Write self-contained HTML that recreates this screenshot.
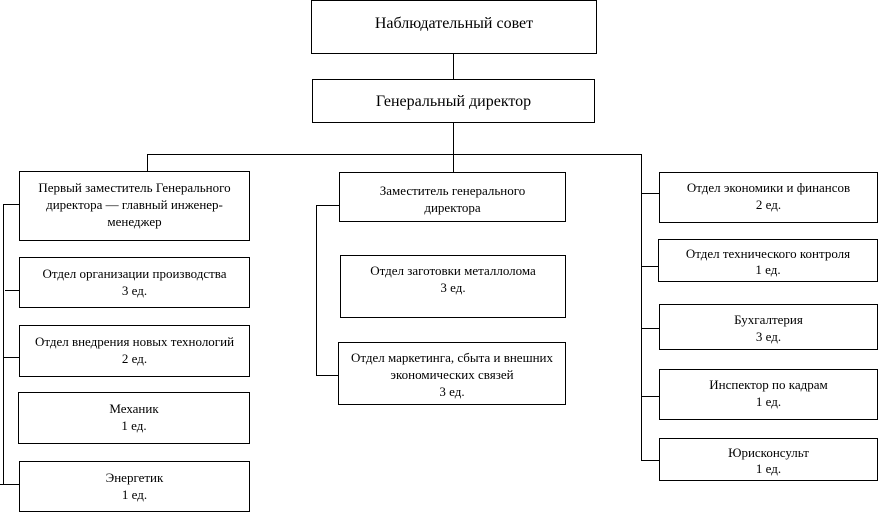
<!DOCTYPE html>
<html><head><meta charset="utf-8"><style>
body{margin:0;width:885px;height:513px;background:#fff;position:relative;overflow:hidden;font-family:"Liberation Serif",serif;color:#000}
.b{position:absolute;box-sizing:border-box;border:1px solid #000;text-align:center;font-size:13px;line-height:17px;padding-top:7px;white-space:nowrap}
.h{position:absolute;height:1px;background:#000}
.v{position:absolute;width:1px;background:#000}
</style></head><body>
<div class="b" style="left:311px;top:0;width:286px;height:54px;font-size:16px;padding-top:14px">Наблюдательный совет</div>
<div class="b" style="left:312px;top:79px;width:283px;height:44px;font-size:16px;padding-top:13px">Генеральный директор</div>
<div class="v" style="left:453px;top:53px;height:26px"></div>
<div class="v" style="left:453px;top:122px;height:50px"></div>
<div class="h" style="left:147px;top:154px;width:495px"></div>
<div class="v" style="left:147px;top:154px;height:17px"></div>
<div class="v" style="left:641px;top:154px;height:307px"></div>

<div class="b" style="left:19px;top:171px;width:231px;height:70px">Первый заместитель Генерального<br>директора — главный инженер-<br>менеджер</div>
<div class="b" style="left:19px;top:257px;width:231px;height:51px">Отдел организации производства<br>3 ед.</div>
<div class="b" style="left:19px;top:325px;width:231px;height:52px">Отдел внедрения новых технологий<br>2 ед.</div>
<div class="b" style="left:18px;top:392px;width:232px;height:52px">Механик<br>1 ед.</div>
<div class="b" style="left:19px;top:461px;width:231px;height:51px">Энергетик<br>1 ед.</div>
<div class="v" style="left:3px;top:204px;height:281px"></div>
<div class="h" style="left:3px;top:204px;width:16px"></div>
<div class="h" style="left:5px;top:290px;width:14px"></div>
<div class="h" style="left:3px;top:357px;width:16px"></div>
<div class="h" style="left:0px;top:484px;width:19px"></div>

<div class="b" style="left:339px;top:172px;width:227px;height:50px;padding-top:9px">Заместитель генерального<br>директора</div>
<div class="b" style="left:340px;top:255px;width:226px;height:63px;padding-top:6px">Отдел заготовки металлолома<br>3 ед.</div>
<div class="b" style="left:338px;top:342px;width:228px;height:63px;padding-top:6px">Отдел маркетинга, сбыта и внешних<br>экономических связей<br>3 ед.</div>
<div class="v" style="left:316px;top:205px;height:171px"></div>
<div class="h" style="left:316px;top:205px;width:23px"></div>
<div class="h" style="left:316px;top:375px;width:22px"></div>

<div class="b" style="left:659px;top:172px;width:219px;height:51px;padding-top:6px">Отдел экономики и финансов<br>2 ед.</div>
<div class="b" style="left:658px;top:239px;width:220px;height:43px;padding-top:6px;line-height:16px">Отдел технического контроля<br>1 ед.</div>
<div class="b" style="left:659px;top:304px;width:219px;height:46px;padding-top:6px">Бухгалтерия<br>3 ед.</div>
<div class="b" style="left:659px;top:369px;width:219px;height:51px;padding-top:6px">Инспектор по кадрам<br>1 ед.</div>
<div class="b" style="left:659px;top:438px;width:219px;height:43px;padding-top:6px;line-height:16px">Юрисконсульт<br>1 ед.</div>
<div class="h" style="left:641px;top:193px;width:18px"></div>
<div class="h" style="left:641px;top:266px;width:18px"></div>
<div class="h" style="left:641px;top:328px;width:18px"></div>
<div class="h" style="left:641px;top:396px;width:18px"></div>
<div class="h" style="left:641px;top:460px;width:18px"></div>
</body></html>
